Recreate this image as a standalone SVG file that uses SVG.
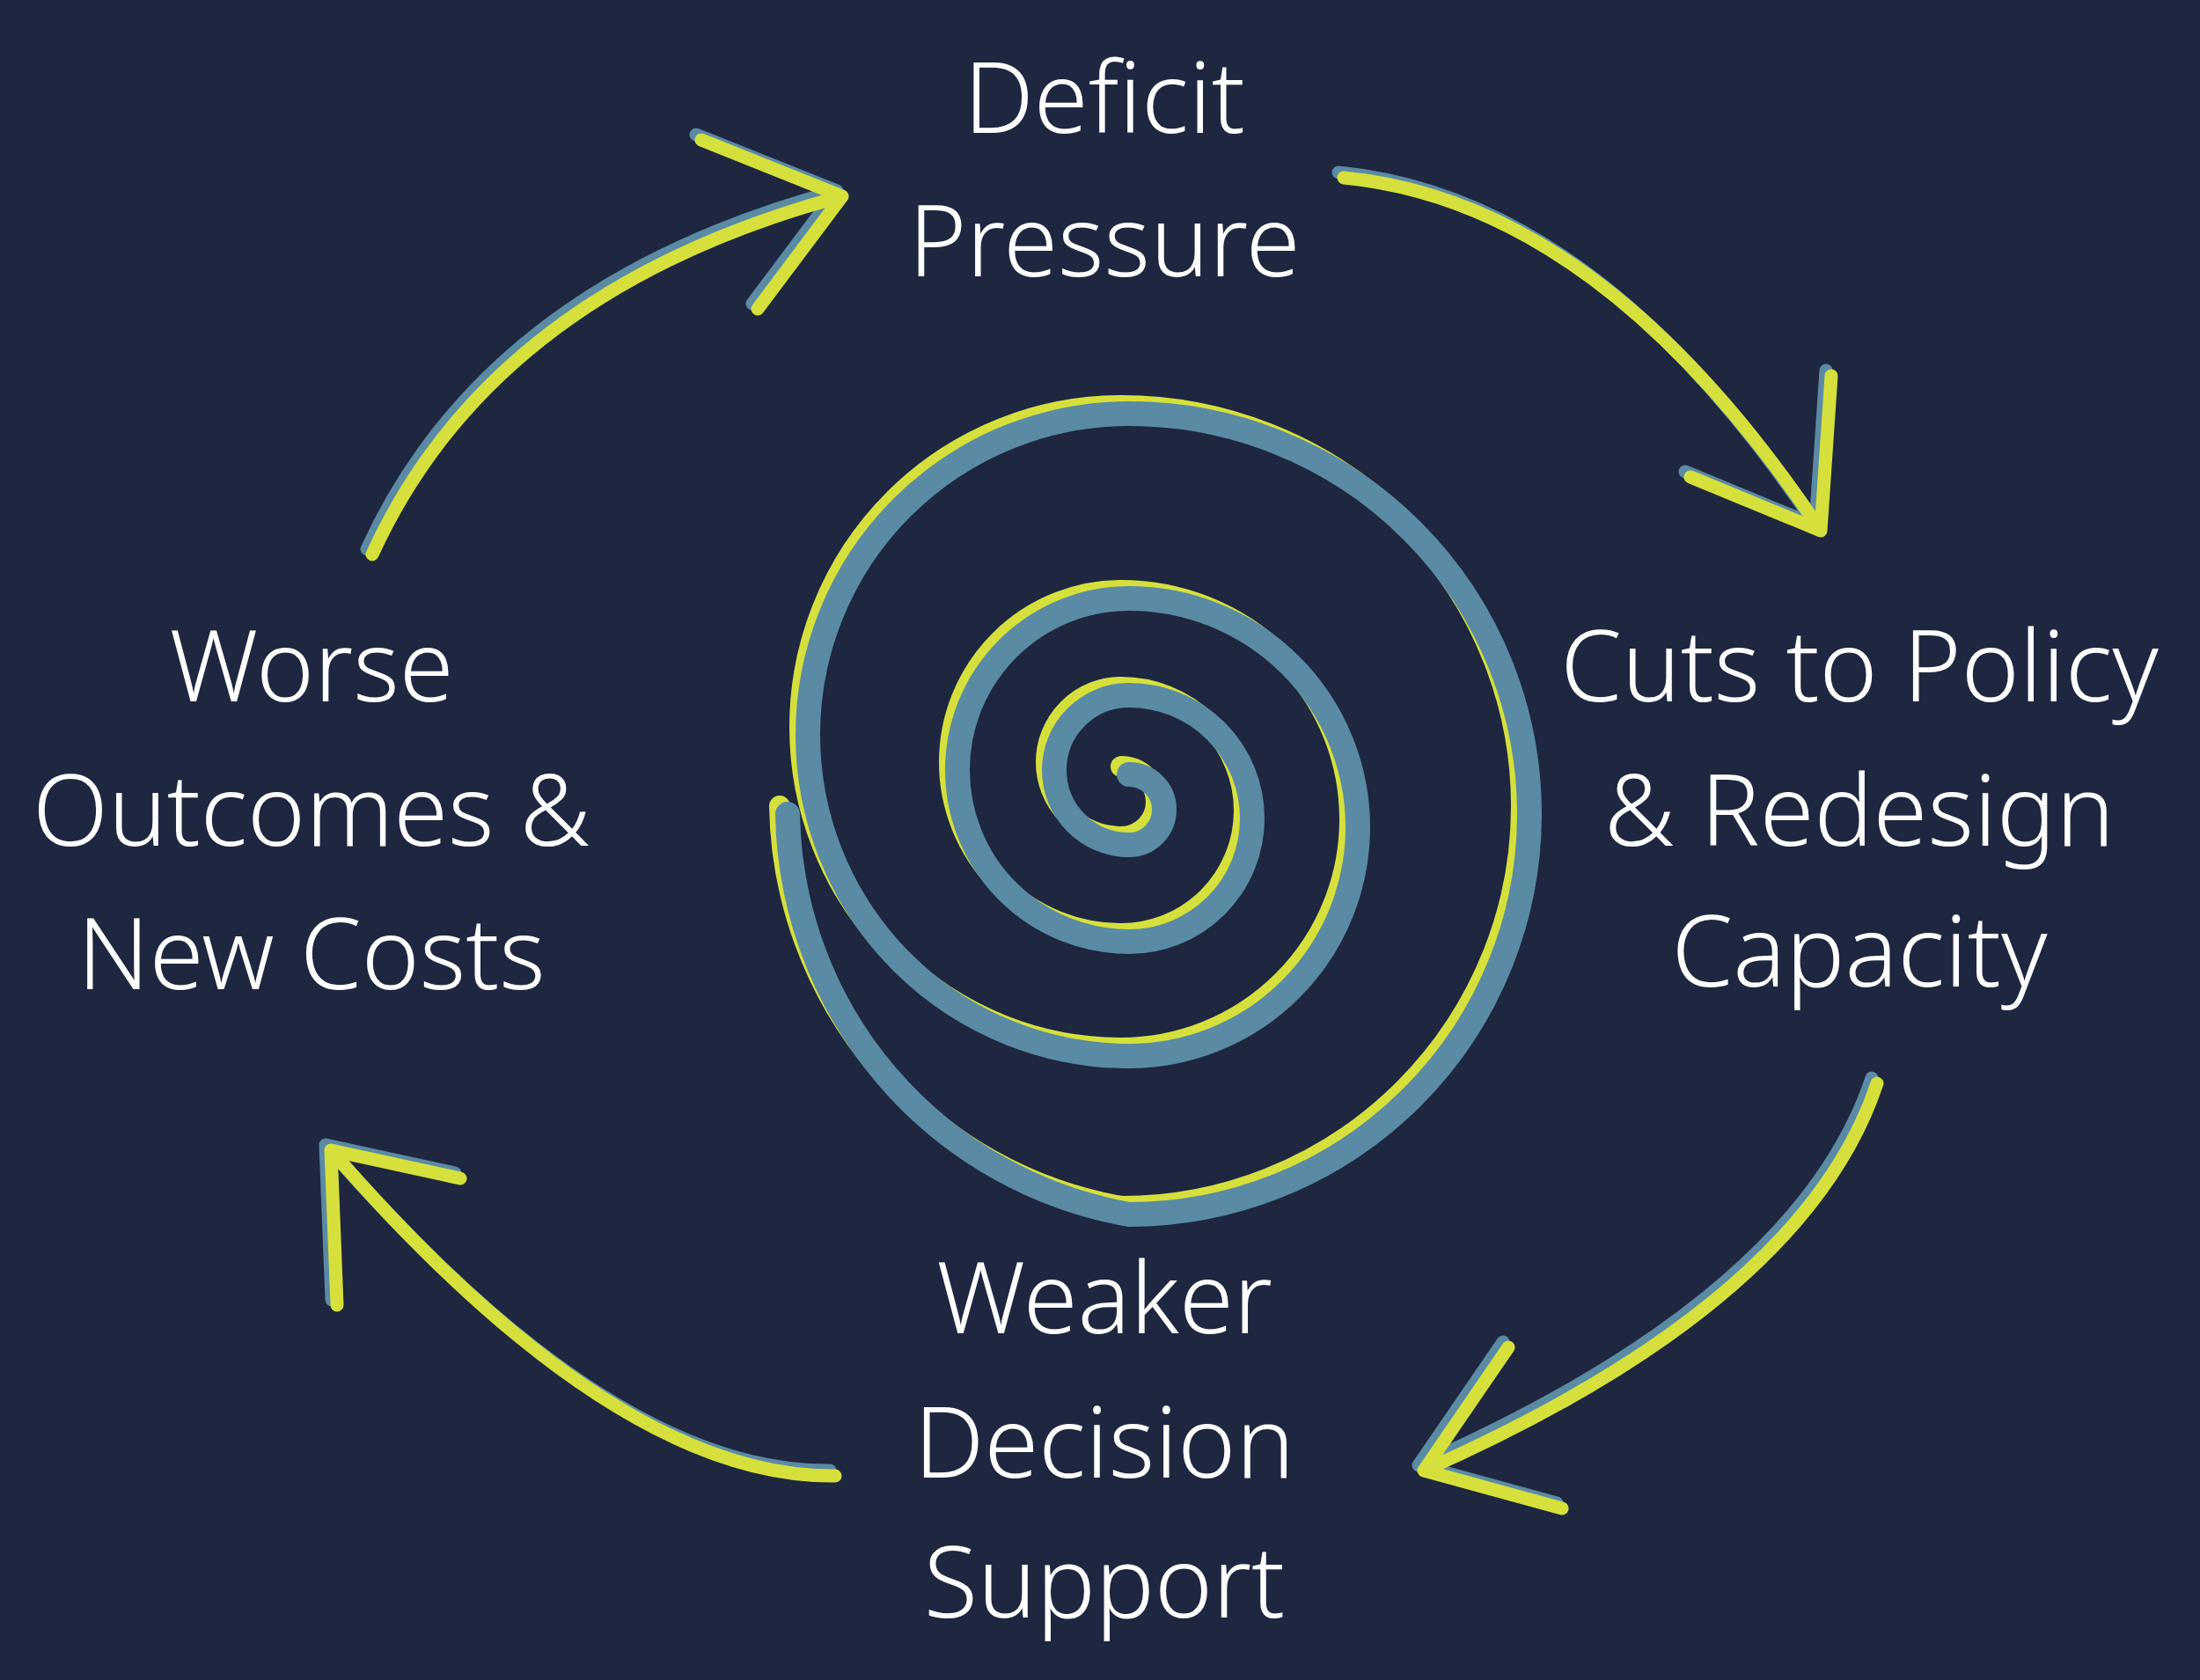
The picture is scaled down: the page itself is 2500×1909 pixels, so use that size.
<svg xmlns="http://www.w3.org/2000/svg" width="2500" height="1909" viewBox="0 0 2500 1909">
<style>
.t{font-family:"Noto Sans","DejaVu Sans",sans-serif;font-size:112px;fill:#ffffff;text-anchor:middle;font-weight:300}
.ay{fill:none;stroke:#d6e03c;stroke-width:15;stroke-linecap:round;stroke-linejoin:round}
.ab{fill:none;stroke:#5a8aa4;stroke-width:15;stroke-linecap:round;stroke-linejoin:round}
</style>
<rect width="2500" height="1909" fill="#1e2640"/>
<g id="spiral">
<path transform="translate(-9,-9)" fill="none" stroke="#d6e03c" stroke-width="24" stroke-linecap="round" d="M1283,880 A40,40 0 0 1 1283,960 A85,85 0 0 1 1283,790 A140,140 0 0 1 1283,1070 A195,195 0 0 1 1283,680 A260,260 0 0 1 1283,1200 A365,365 0 0 1 1283,470 A455,455 0 0 1 1283,1380 A470,470 0 0 1 895,925"/>
<path fill="none" stroke="#5a8aa4" stroke-width="28" stroke-linecap="round" d="M1283,880 A40,40 0 0 1 1283,960 A85,85 0 0 1 1283,790 A140,140 0 0 1 1283,1070 A195,195 0 0 1 1283,680 A260,260 0 0 1 1283,1200 A365,365 0 0 1 1283,470 A455,455 0 0 1 1283,1380 A470,470 0 0 1 895,925"/>
</g>
<g id="connectors">
<g transform="translate(-6,-6)" class="ab">
<path d="M423,630 Q560,330 957,223 M797,159 L957,223 L861,351"/>
<path d="M1527,202 Q1820,230 2069,603 M2081,427 L2069,603 L1921,542"/>
<path d="M2133,1231 Q2050,1480 1618,1671 M1714,1531 L1618,1671 L1775,1714"/>
<path d="M949,1677 Q700,1680 376,1307 M383,1483 L376,1307 L523,1339"/>
</g>
<g class="ay">
<path d="M423,630 Q560,330 957,223 M797,159 L957,223 L861,351"/>
<path d="M1527,202 Q1820,230 2069,603 M2081,427 L2069,603 L1921,542"/>
<path d="M2133,1231 Q2050,1480 1618,1671 M1714,1531 L1618,1671 L1775,1714"/>
<path d="M949,1677 Q700,1680 376,1307 M383,1483 L376,1307 L523,1339"/>
</g>
</g>
<g id="deficit"><text class="t" x="1255" y="151">Deficit</text><text class="t" x="1255" y="314">Pressure</text></g>
<g id="cuts"><text class="t" x="2113" y="797">Cuts to Policy</text><text class="t" x="2113" y="961">&amp; Redesign</text><text class="t" x="2113" y="1121">Capacity</text></g>
<g id="worse"><text class="t" x="354" y="797">Worse</text><text class="t" x="354" y="961">Outcomes &amp;</text><text class="t" x="354" y="1124">New Costs</text></g>
<g id="weaker"><text class="t" x="1255" y="1515">Weaker</text><text class="t" x="1255" y="1679">Decision</text><text class="t" x="1255" y="1838">Support</text></g>
</svg>
